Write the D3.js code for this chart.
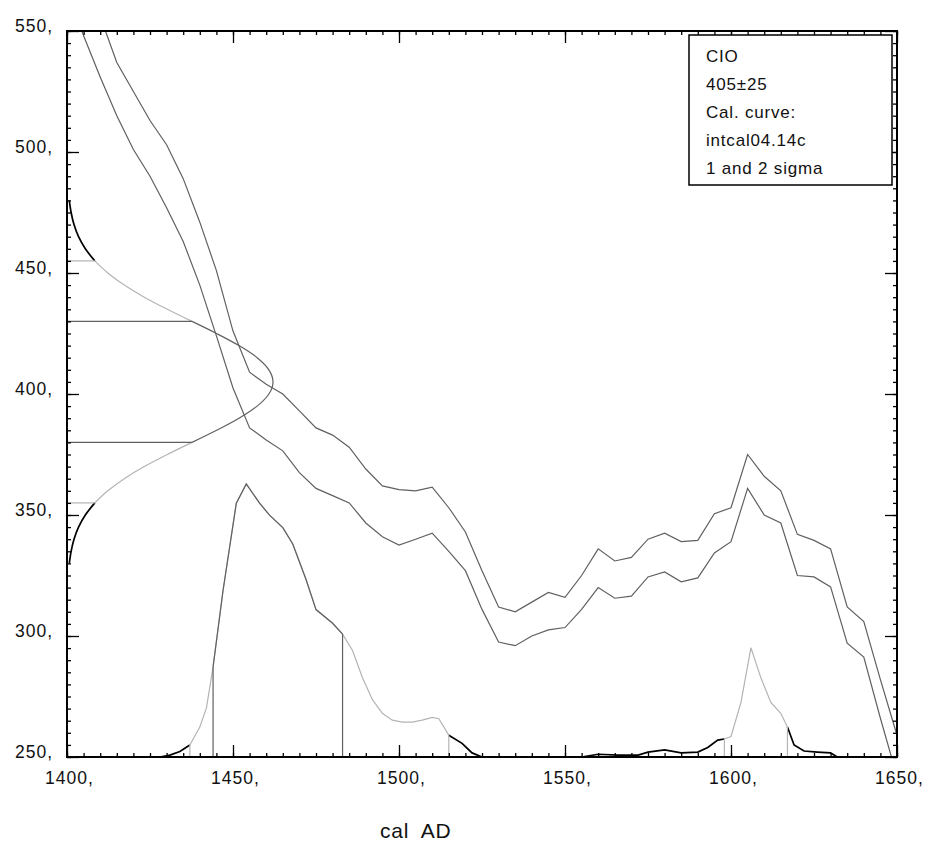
<!DOCTYPE html>
<html><head><meta charset="utf-8">
<script src="https://cdn.jsdelivr.net/npm/d3@7"></script>
<style>
html,body{margin:0;padding:0;background:#fff;}
svg{display:block;}
text{font-family:"Liberation Sans",Arial,sans-serif;fill:#111;}
</style></head><body>
<svg id="chart" width="927" height="847"></svg>
<script>
// ---------- data ----------
const xTickLabels = [1400,1450,1500,1550,1600,1650];
const yTickLabels = [250,300,350,400,450,500,550];
const legendLines = ["CIO","405\u00B125","Cal. curve:","intcal04.14c","1 and 2 sigma"];
const axisTitle = "cal AD";

// calibration curve band (BP), upper and lower 1-sigma envelope
const calYears = [1400,1405,1410,1415,1420,1425,1430,1435,1440,1445,1450,1455,1460,1465,1470,1475,1480,1485,1490,1495,1500,1505,1510,1515,1520,1525,1530,1535,1540,1545,1550,1555,1560,1565,1570,1575,1580,1585,1590,1595,1600,1605,1610,1615,1620,1625,1630,1635,1640,1645,1650];
const calUpper = [590,570,556,537,525,513,503,489,471,451,426,409,404,400,393,386,383,378,369,362,360.5,360,361.5,353,343,327,312,310,314,318,316,325,336,331,332.5,340,342.5,339,339.5,350.5,353,375,366,360,342,339.5,336,312,306,282,259];
const calLower = [568,548,531,515,501,490,477,463,445,424,402.5,386,381,376.5,367.5,361,358,355,346.7,341,337.6,340,342.5,335,327,311,297.5,296,300,302.5,303.5,311,320,315.6,316.5,324.4,326.5,322.4,324,334.3,339,361,350,346.7,325,324.4,320.3,297,291.3,266,242];

// radiocarbon date 405 +/- 25 BP (relative density)
const c14Ages    = [330,335,340,345,350,355,360,365,370,375,380,385,390,395,400,405,410,415,420,425,430,435,440,445,450,455,460,465,470,475,480];
const c14Density = [0.011,0.020,0.034,0.056,0.089,0.135,0.198,0.278,0.375,0.487,0.607,0.726,0.835,0.923,0.980,1.000,0.980,0.923,0.835,0.726,0.607,0.487,0.375,0.278,0.198,0.135,0.089,0.056,0.034,0.020,0.011];
const c14Sigma1 = [380,430];
const c14Sigma2 = [355,455];

// calibrated probability (relative)
const probYears  = [1400,1428,1431,1434,1437,1440,1442,1444,1447,1451,1454,1458,1461,1465,1468,1472,1475,1480,1483,1486,1489,1492,1495,1498,1501,1504,1507,1510,1512,1515,1519,1522,1525,1555,1560,1566,1572,1575,1580,1585,1590,1593,1596,1598,1600,1603,1606,1609,1612,1615,1617,1619,1622,1626,1630,1632,1650];
const probValues = [0,0,0.007,0.02,0.044,0.11,0.18,0.33,0.61,0.93,1.0,0.93,0.886,0.84,0.78,0.65,0.54,0.49,0.45,0.39,0.29,0.21,0.16,0.135,0.128,0.128,0.135,0.145,0.14,0.08,0.05,0.015,0,0,0.01,0.007,0.007,0.018,0.026,0.015,0.018,0.035,0.062,0.066,0.075,0.2,0.40,0.29,0.2,0.16,0.11,0.044,0.022,0.018,0.015,0,0];
const probSigma1 = [[1444,1483]];
const probSigma2 = [[1437,1515],[1598,1617]];

// ---------- drawing ----------
const W = 927, H = 847;
const m = {l:67, t:31, r:897, b:757};
const BLACK = "#000", DARK = "#606060", LIGHT = "#b4b4b4";

const x  = d3.scaleLinear().domain([1400,1650]).range([m.l, m.r]);
const y  = d3.scaleLinear().domain([250,550]).range([m.b, m.t]);
const gx = d3.scaleLinear().domain([0,1]).range([m.l, 273]);
const py = d3.scaleLinear().domain([0,1]).range([m.b, 484]);

const svg = d3.select("#chart");
svg.append("rect").attr("width",W).attr("height",H).attr("fill","#fff");
svg.append("defs").append("clipPath").attr("id","clip")
  .append("rect").attr("x",m.l).attr("y",m.t).attr("width",m.r-m.l).attr("height",m.b-m.t);
const plot = svg.append("g").attr("clip-path","url(#clip)");

// calibration curve
const calLine = d3.line().x(d=>x(d[0])).y(d=>y(d[1]));
[calUpper, calLower].forEach(vals => {
  plot.append("path").datum(calYears.map((yr,i)=>[yr, vals[i]]))
    .attr("d", calLine).attr("fill","none").attr("stroke",DARK).attr("stroke-width",1.2);
});

function seg(pts, lo, hi){ return pts.filter(p => p[0] >= lo && p[0] <= hi); }
function valAt(pts, k){ const p = pts.find(q => q[0] === k); return p ? p[1] : 0; }

// radiocarbon gaussian on the y axis
const gPts = c14Ages.map((a,i)=>[a, c14Density[i]]).sort((a,b)=>b[0]-a[0]);
const gLine = d3.line().x(d=>gx(d[1])).y(d=>y(d[0])).curve(d3.curveMonotoneY);
const gSegs = [
  {lo:c14Ages[0], hi:c14Sigma2[0], c:BLACK, w:1.7},
  {lo:c14Sigma2[1], hi:c14Ages[c14Ages.length-1], c:BLACK, w:1.7},
  {lo:c14Sigma2[0], hi:c14Sigma1[0], c:LIGHT, w:1.2},
  {lo:c14Sigma1[1], hi:c14Sigma2[1], c:LIGHT, w:1.2},
  {lo:c14Sigma1[0], hi:c14Sigma1[1], c:DARK, w:1.2}
];
gSegs.forEach(s => plot.append("path").datum(seg(gPts, s.lo, s.hi))
  .attr("d", gLine).attr("fill","none").attr("stroke", s.c).attr("stroke-width", s.w));
c14Sigma2.forEach(a => plot.append("line").attr("x1",m.l).attr("x2",gx(valAt(gPts,a)))
  .attr("y1",y(a)).attr("y2",y(a)).attr("stroke",LIGHT).attr("stroke-width",1.2));
c14Sigma1.forEach(a => plot.append("line").attr("x1",m.l).attr("x2",gx(valAt(gPts,a)))
  .attr("y1",y(a)).attr("y2",y(a)).attr("stroke",DARK).attr("stroke-width",1.2));

// calibrated probability on the x axis
const pPts = probYears.map((yr,i)=>[yr, probValues[i]]);
const pLine = d3.line().x(d=>x(d[0])).y(d=>py(d[1]));
const blackRanges = [[1400, probSigma2[0][0]], [probSigma2[0][1], probSigma2[1][0]], [probSigma2[1][1], 1650]];
blackRanges.forEach(r => plot.append("path").datum(seg(pPts, r[0], r[1]))
  .attr("d", pLine).attr("fill","none").attr("stroke",BLACK).attr("stroke-width",1.7));
probSigma2.forEach(r => plot.append("path").datum(seg(pPts, r[0], r[1]))
  .attr("d", pLine).attr("fill","none").attr("stroke",LIGHT).attr("stroke-width",1.2));
probSigma1.forEach(r => plot.append("path").datum(seg(pPts, r[0], r[1]))
  .attr("d", pLine).attr("fill","none").attr("stroke",DARK).attr("stroke-width",1.2));
probSigma2.flat().forEach(yr => plot.append("line").attr("x1",x(yr)).attr("x2",x(yr))
  .attr("y1",m.b).attr("y2",py(valAt(pPts,yr))).attr("stroke",LIGHT).attr("stroke-width",1.2));
probSigma1.flat().forEach(yr => plot.append("line").attr("x1",x(yr)).attr("x2",x(yr))
  .attr("y1",m.b).attr("y2",py(valAt(pPts,yr))).attr("stroke",DARK).attr("stroke-width",1.2));

// ticks
const minorX = d3.range(1400,1651,5), majorX = xTickLabels;
const minorY = d3.range(250,551,5),  majorY = yTickLabels;
function tickGroup(axisFn, scale, values, size, tr){
  const g = svg.append("g").attr("transform", tr)
    .call(axisFn(scale).tickValues(values).tickSize(size).tickFormat(""));
  g.select(".domain").remove();
  g.selectAll("line").attr("stroke",BLACK).attr("stroke-width",1.3);
  g.selectAll("text").remove();
}
tickGroup(d3.axisBottom, x, minorX, -4, `translate(0,${m.b})`);
tickGroup(d3.axisBottom, x, majorX, -12, `translate(0,${m.b})`);
tickGroup(d3.axisTop, x, minorX, -4, `translate(0,${m.t})`);
tickGroup(d3.axisTop, x, majorX, -12, `translate(0,${m.t})`);
tickGroup(d3.axisLeft, y, minorY, -4, `translate(${m.l},0)`);
tickGroup(d3.axisLeft, y, majorY, -12, `translate(${m.l},0)`);
tickGroup(d3.axisRight, y, minorY, -4, `translate(${m.r},0)`);
tickGroup(d3.axisRight, y, majorY, -12, `translate(${m.r},0)`);

// frame
svg.append("rect").attr("x",m.l).attr("y",m.t).attr("width",m.r-m.l).attr("height",m.b-m.t)
  .attr("fill","none").attr("stroke",BLACK).attr("stroke-width",2);

// tick labels
const xl = svg.append("g").attr("transform",`translate(0,${m.b})`)
  .call(d3.axisBottom(x).tickValues(xTickLabels).tickSize(0).tickFormat(d=>d+","));
xl.select(".domain").remove();
xl.selectAll("text").attr("y",27).attr("dy",0).attr("dx",2)
  .attr("font-size",17.5).attr("letter-spacing","1px").attr("fill","#111").attr("font-family",null);

const yl = svg.append("g").attr("transform",`translate(${m.l},0)`)
  .call(d3.axisLeft(y).tickValues(yTickLabels).tickSize(0).tickPadding(14).tickFormat(d=>d+","));
yl.select(".domain").remove();
yl.selectAll("text").attr("dy",0)
  .attr("font-size",17.5).attr("letter-spacing","1px").attr("fill","#111").attr("font-family",null);

// legend box
svg.append("rect").attr("x",689).attr("y",35).attr("width",203).attr("height",150)
  .attr("fill","#fff").attr("stroke",BLACK).attr("stroke-width",1.5);
legendLines.forEach((t,i) => svg.append("text").attr("x",706).attr("y",62 + i*28)
  .attr("font-size",17).attr("letter-spacing","0.8px").text(t));

// axis title
svg.append("text").attr("x",380).attr("y",838).attr("font-size",21)
  .attr("letter-spacing","0.8px").attr("word-spacing","6px").text(axisTitle);
</script>
</body></html>
